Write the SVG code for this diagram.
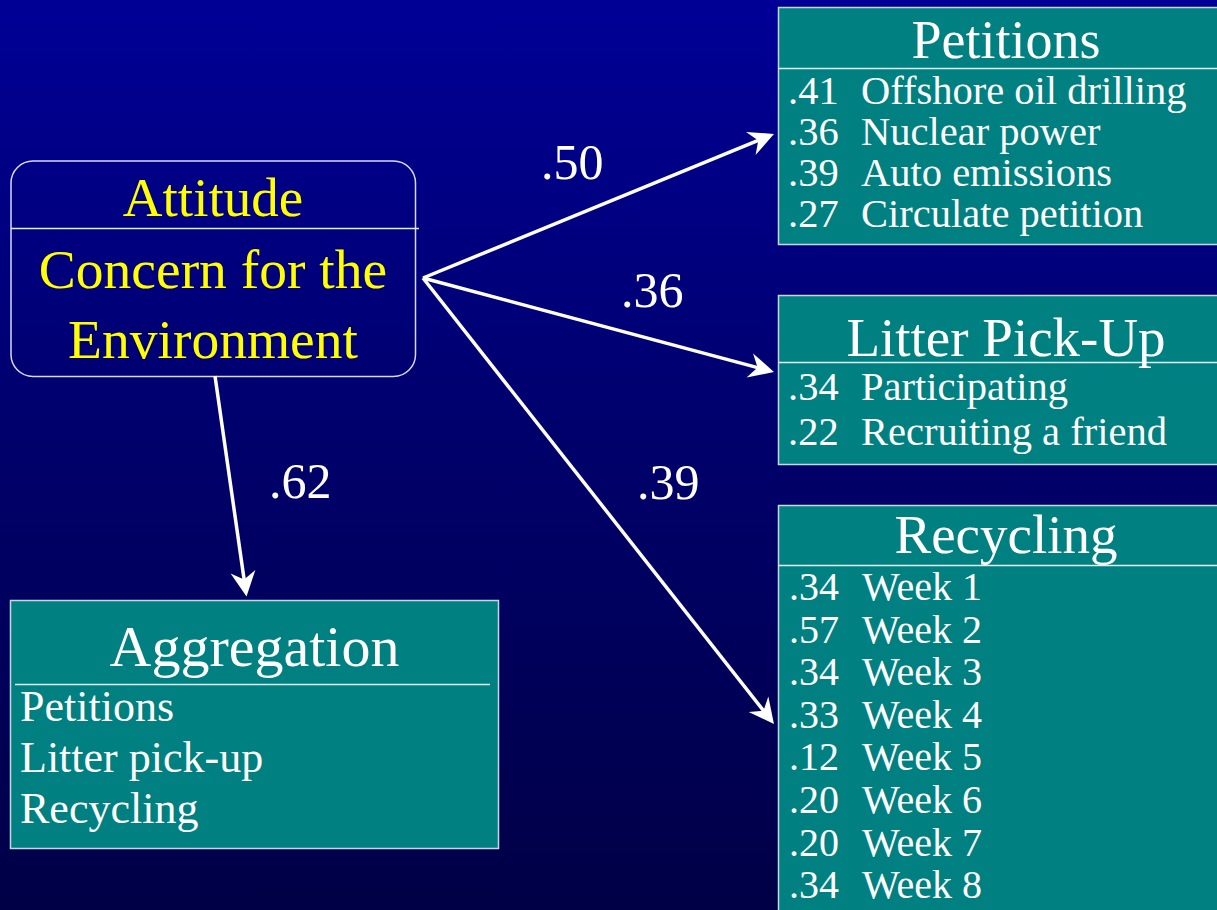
<svg xmlns="http://www.w3.org/2000/svg" width="1217" height="910" viewBox="0 0 1217 910">
<defs>
<linearGradient id="bg" x1="0" y1="0" x2="0" y2="1">
<stop offset="0" stop-color="#000096"/>
<stop offset="0.5" stop-color="#00006a"/>
<stop offset="1" stop-color="#000046"/>
</linearGradient>
<marker id="ah" markerUnits="userSpaceOnUse" viewBox="-12 -14 30 28" markerWidth="30" markerHeight="28" refX="0" refY="0" orient="auto">
<path d="M15,0 L-10,-12.5 L-2,0 L-10,12.5 Z" fill="#ffffff"/>
</marker>
</defs>
<style>
.t{font-family:"Liberation Serif","Times New Roman",serif;}
.yel{fill:#ffff00;}
.wh{fill:#ffffff;}
.box{fill:#008080;stroke:#c8d8e0;stroke-width:1.5;}
.div{stroke:#e0eef0;stroke-width:1.5;fill:none;}
.conn{stroke:#ffffff;stroke-width:3.5;fill:none;marker-end:url(#ah);}
</style>
<rect x="0" y="0" width="1217" height="910" fill="url(#bg)"/>

<g id="attitude">
<rect x="11" y="161" width="404.5" height="215.5" rx="22" ry="22" fill="none" stroke="#d8d8f0" stroke-width="1.5"/>
<line x1="11" y1="228.5" x2="419" y2="228.5" class="div"/>
<text class="t yel" x="213" y="216" font-size="55" text-anchor="middle">Attitude</text>
<text class="t yel" x="213" y="288" font-size="55.5" text-anchor="middle">Concern for the</text>
<text class="t yel" x="213" y="358" font-size="55.5" text-anchor="middle">Environment</text>
</g>

<g id="petitions">
<rect x="778.5" y="7.5" width="450" height="237" class="box"/>
<line x1="778.5" y1="68.5" x2="1222" y2="68.5" class="div"/>
<text class="t wh" x="1006" y="58" font-size="54" text-anchor="middle">Petitions</text>
<g class="t wh" font-size="40.5">
<text x="788" y="104">.41</text><text x="861" y="104">Offshore oil drilling</text>
<text x="788" y="145">.36</text><text x="861" y="145">Nuclear power</text>
<text x="788" y="186">.39</text><text x="861" y="186">Auto emissions</text>
<text x="788" y="227">.27</text><text x="861" y="227">Circulate petition</text>
</g>
</g>

<g id="litter">
<rect x="778.5" y="295.5" width="450" height="169" class="box"/>
<line x1="778.5" y1="362.5" x2="1222" y2="362.5" class="div"/>
<text class="t wh" x="1006" y="356" font-size="55" text-anchor="middle">Litter Pick-Up</text>
<g class="t wh" font-size="40.5">
<text x="788" y="400">.34</text><text x="861" y="400">Participating</text>
<text x="788" y="445">.22</text><text x="861" y="445">Recruiting a friend</text>
</g>
</g>

<g id="recycling">
<rect x="778.5" y="505.5" width="450" height="420" class="box"/>
<line x1="778.5" y1="565.5" x2="1222" y2="565.5" class="div"/>
<text class="t wh" x="1006" y="553" font-size="55" text-anchor="middle">Recycling</text>
<g class="t wh" font-size="40">
<text x="789" y="600">.34</text><text x="862" y="600">Week 1</text>
<text x="789" y="643">.57</text><text x="862" y="643">Week 2</text>
<text x="789" y="685">.34</text><text x="862" y="685">Week 3</text>
<text x="789" y="728">.33</text><text x="862" y="728">Week 4</text>
<text x="789" y="770">.12</text><text x="862" y="770">Week 5</text>
<text x="789" y="813">.20</text><text x="862" y="813">Week 6</text>
<text x="789" y="856">.20</text><text x="862" y="856">Week 7</text>
<text x="789" y="898">.34</text><text x="862" y="898">Week 8</text>
</g>
</g>

<g id="aggregation">
<rect x="10.5" y="600.5" width="488" height="248" class="box"/>
<line x1="15" y1="684.5" x2="490" y2="684.5" class="div"/>
<text class="t wh" x="254.5" y="666" font-size="58" text-anchor="middle">Aggregation</text>
<g class="t wh" font-size="44">
<text x="20" y="721">Petitions</text>
<text x="20" y="772">Litter pick-up</text>
<text x="20" y="823">Recycling</text>
</g>
</g>

<g id="connectors">
<line x1="423" y1="278" x2="760.1" y2="139.7" class="conn"/>
<line x1="423" y1="278" x2="759.5" y2="368.1" class="conn"/>
<line x1="423" y1="278" x2="764.7" y2="712.2" class="conn"/>
<line x1="215" y1="376" x2="244.4" y2="581.6" class="conn"/>
</g>

<g id="labels" class="t wh" font-size="50">
<text x="541" y="179">.50</text>
<text x="621" y="307">.36</text>
<text x="269" y="498">.62</text>
<text x="637" y="499">.39</text>
</g>
</svg>
